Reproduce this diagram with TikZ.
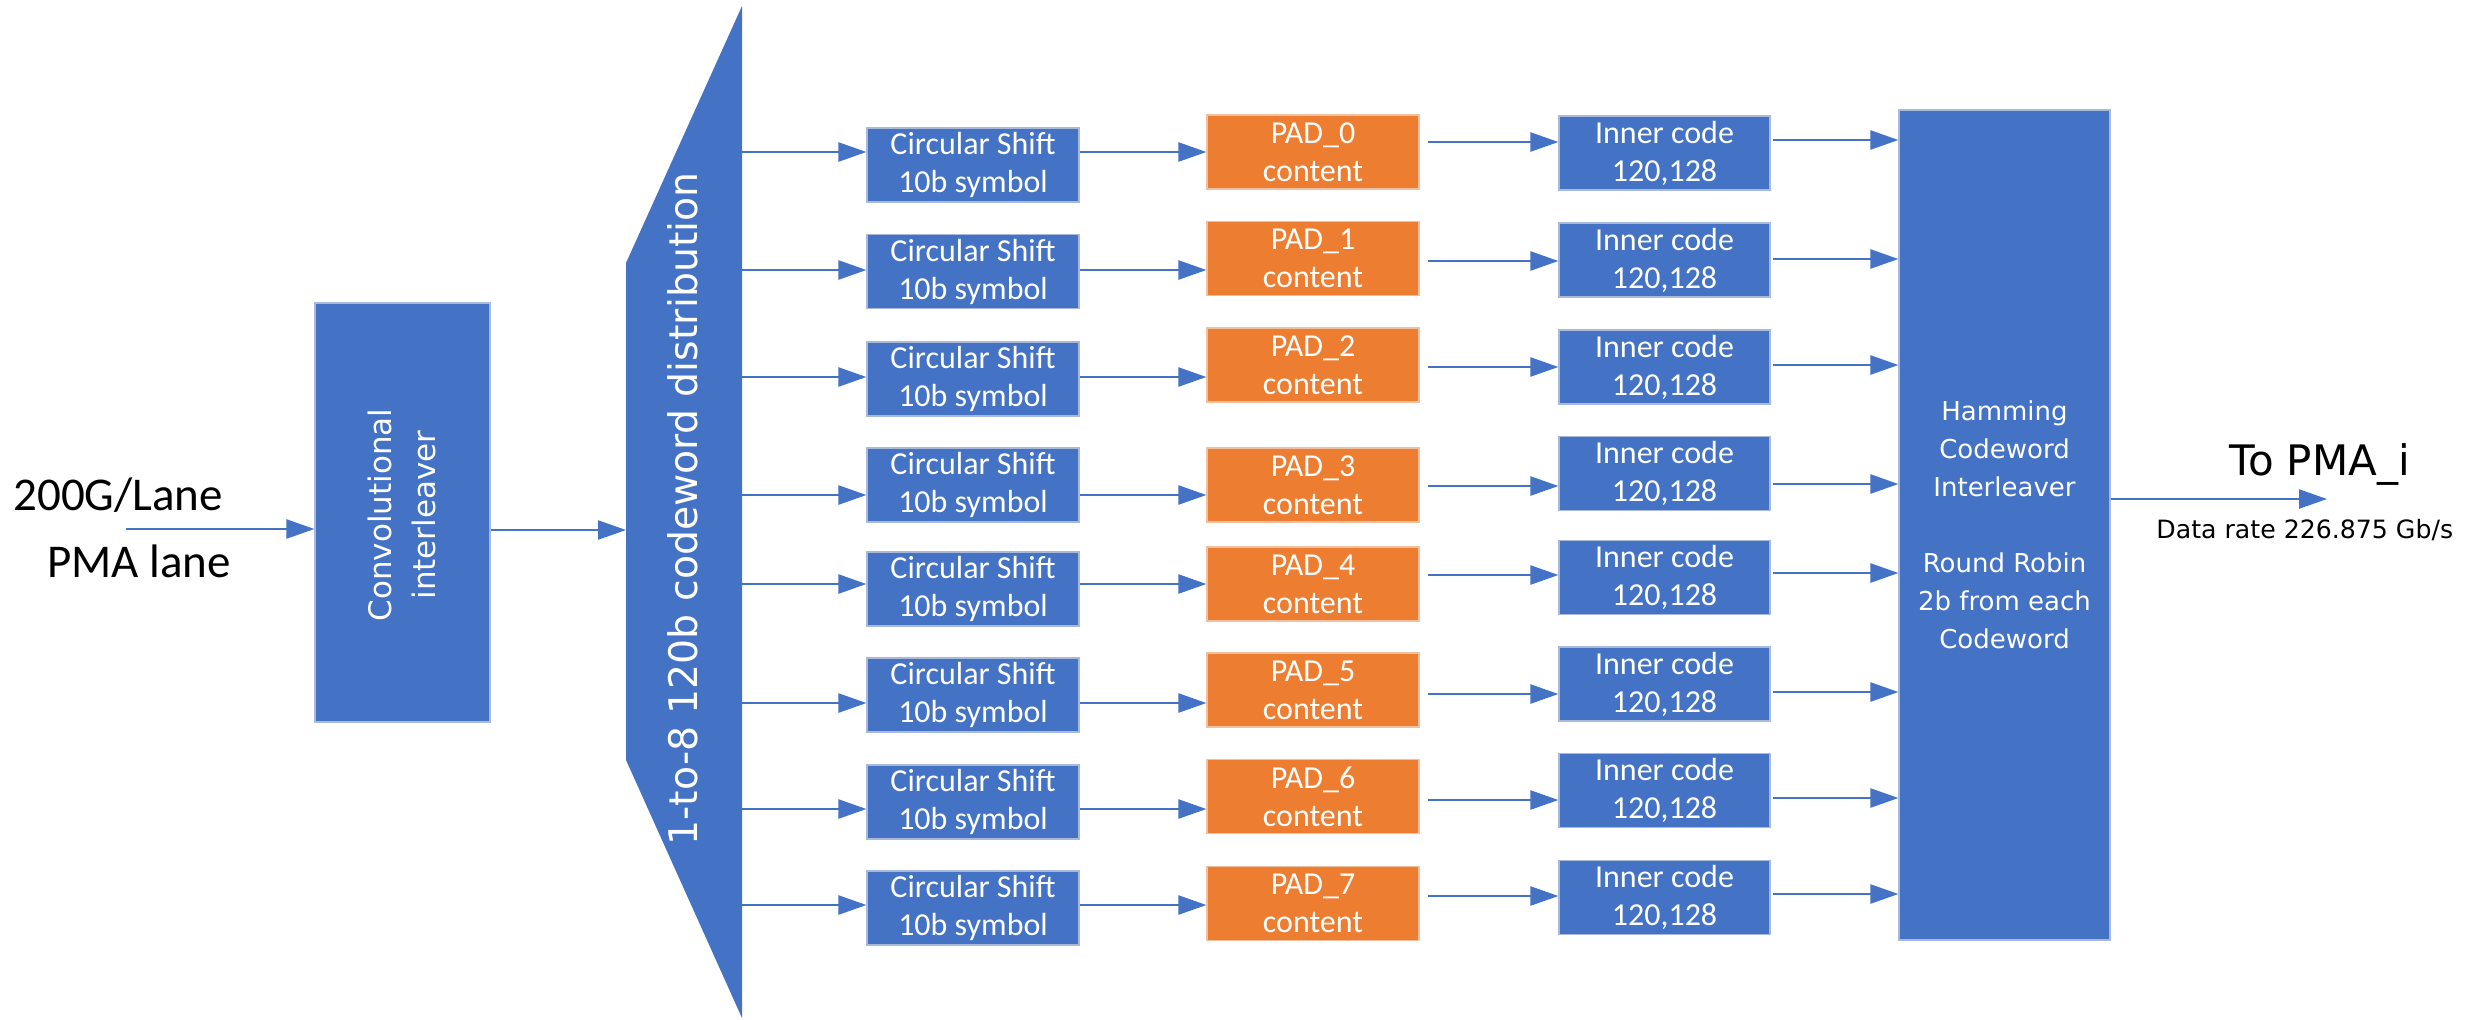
\documentclass[tikz,border=0pt]{standalone}
\usepackage{fontspec}
\setmainfont{Carlito}
\newfontfamily\vfont{DejaVu Sans}
\usetikzlibrary{arrows.meta}
\definecolor{bl}{HTML}{4472C4}
\definecolor{orng}{HTML}{ED7D31}
\definecolor{edge}{HTML}{A9B9D9}
\definecolor{oedge}{HTML}{F0C0A0}
\begin{document}
\begin{tikzpicture}[x=0.5pt,y=-0.5pt,
  box/.style={rectangle, draw=edge, line width=0.6pt, fill=bl, text=white, inner sep=0pt,
    align=center, minimum width=106pt, minimum height=37pt, font=\fontsize{16}{19}\selectfont},
  padbox/.style={box, fill=orng, draw=oedge},
  arr/.style={draw=bl, line width=1.2pt, -{Triangle[length=14pt,width=9.5pt]}},
  lbl/.style={inner sep=0pt, text=black}]
\useasboundingbox (0,0) rectangle (2476,1019);

% input labels
\node[lbl, anchor=base west, font=\fontsize{23.5}{28}\selectfont] (lane) at (13,510) {200G/Lane};
\node[lbl, anchor=base west, font=\fontsize{23.5}{28}\selectfont] (pma) at (47,577) {PMA lane};

% convolutional interleaver
\node[box, minimum width=87.5pt, minimum height=209.5pt] (conv) at (402.5,512.5) {};
\node[rotate=90, text=white, align=center, inner sep=0pt,
      font=\vfont\fontsize{15.5}{22}\selectfont] (convtxt) at (402,515) {Convolutional\\interleaver};

% distribution trapezoid
\fill[bl] (742,6) -- (626,263) -- (626,760) -- (742,1018) -- cycle;
\node[rotate=90, text=white, inner sep=0pt, font=\vfont\fontsize{19.7}{24}\selectfont] (dist) at (683,509)
  {1-to-8 120b codeword distribution};
\coordinate (trE) at (742,509);
\coordinate (trW) at (626,530);

% hamming interleaver
\node[box, minimum width=105.5pt, minimum height=415pt, font=\vfont\fontsize{13}{19}\selectfont] (ham) at (2004.5,525)
  {Hamming\\Codeword\\Interleaver\\[19pt]Round Robin\\2b from each\\Codeword};

% input / output arrows
\coordinate (inS) at (126,529);
\draw[arr] (inS) -- (conv.west |- inS);
\draw[arr] (conv.east |- trW) -- (trW);
\coordinate (outE) at (2327,499);
\draw[arr] (ham.east |- outE) -- (outE);

\node[lbl, anchor=base west, font=\vfont\fontsize{21}{25}\selectfont] (topma) at (2229,475) {To PMA\_i};
\node[lbl, anchor=base west, font=\vfont\fontsize{12.6}{15}\selectfont] (rate) at (2156,538) {Data rate 226.875 Gb/s};

% rows
\foreach \i/\cy/\ay/\py/\by/\ny/\hy in {
0/165/152/152/142/153/140,
1/271.5/270/258.5/261/260/259,
2/379/377/365/367/367/365,
3/485/495/485/486/473.5/484,
4/589/584/584/575/577.5/573,
5/695/703/690/694/684/692,
6/802/809/796.5/800/790.5/798,
7/908/905/903.5/896/897.5/894}{
  \node[box] (cs\i) at (973,\cy) {Circular Shift\\10b symbol};
  \node[padbox] (pad\i) at (1313,\py) {PAD\_\i\\content};
  \node[box, minimum width=105.5pt] (inn\i) at (1664.5,\ny) {Inner code\\120,128};
  \coordinate (a\i) at (0,\ay);
  \coordinate (b\i) at (0,\by);
  \coordinate (h\i) at (0,\hy);
  \draw[arr] (trE |- a\i) -- (cs\i.west |- a\i);
  \draw[arr] (cs\i.east |- a\i) -- (pad\i.west |- a\i);
  \draw[arr] ([xshift=4pt]pad\i.east |- b\i) -- (inn\i.west |- b\i);
  \draw[arr] ([xshift=1pt]inn\i.east |- h\i) -- (ham.west |- h\i);
}
\end{tikzpicture}
\end{document}
